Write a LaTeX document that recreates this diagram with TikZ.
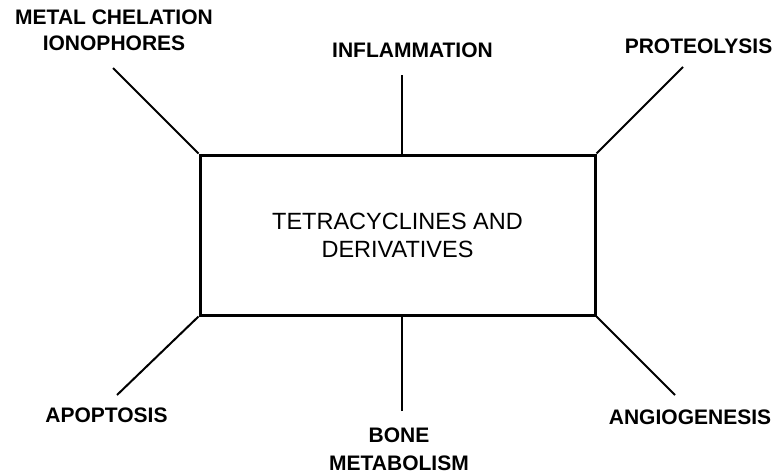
\documentclass[tikz,border=0pt]{standalone}
\usepackage{fontspec}
\setmainfont{Liberation Sans}
\usetikzlibrary{positioning}
\tikzset{
  topic/.style={font=\fontsize{21}{26}\selectfont\bfseries, align=center, inner sep=0pt},
  spoke/.style={line width=2pt},
}
\begin{document}
\begin{tikzpicture}[x=1pt, y=-1pt]
  \useasboundingbox (0,0) rectangle (778,474);
  \node[draw, line width=3pt, minimum width=395pt, minimum height=160pt, inner sep=0pt, align=center, font=\fontsize{23.5}{28}\selectfont] (tc) at (397.5,235) {TETRACYCLINES AND\\DERIVATIVES};
  % labels
  \node[topic] (metal) at (114,30) {METAL CHELATION\\IONOPHORES};
  \node[topic] (inflam) at (412.5,50) {INFLAMMATION};
  \node[topic] (proteo) at (698.5,46) {PROTEOLYSIS};
  \node[topic] (apop) at (106.5,415) {APOPTOSIS};
  \node[topic, font=\fontsize{21}{28}\selectfont\bfseries] (bone) at (399,449) {BONE\\METABOLISM};
  \node[topic] (angio) at (690,417) {ANGIOGENESIS};
  % free ends of the spokes
  \coordinate (metalend) at (113,68);
  \coordinate (inflamend) at (402,75);
  \coordinate (proteoend) at (683,67);
  \coordinate (apopend) at (117,395);
  \coordinate (boneend) at (402,411);
  \coordinate (angioend) at (675,395);
  \draw[spoke] (metalend) -- (tc.north west);
  \draw[spoke] (inflamend) -- (inflamend |- tc.north);
  \draw[spoke] (proteoend) -- (tc.north east);
  \draw[spoke] (apopend) -- (tc.south west);
  \draw[spoke] (boneend) -- (boneend |- tc.south);
  \draw[spoke] (angioend) -- (tc.south east);
\end{tikzpicture}
\end{document}
